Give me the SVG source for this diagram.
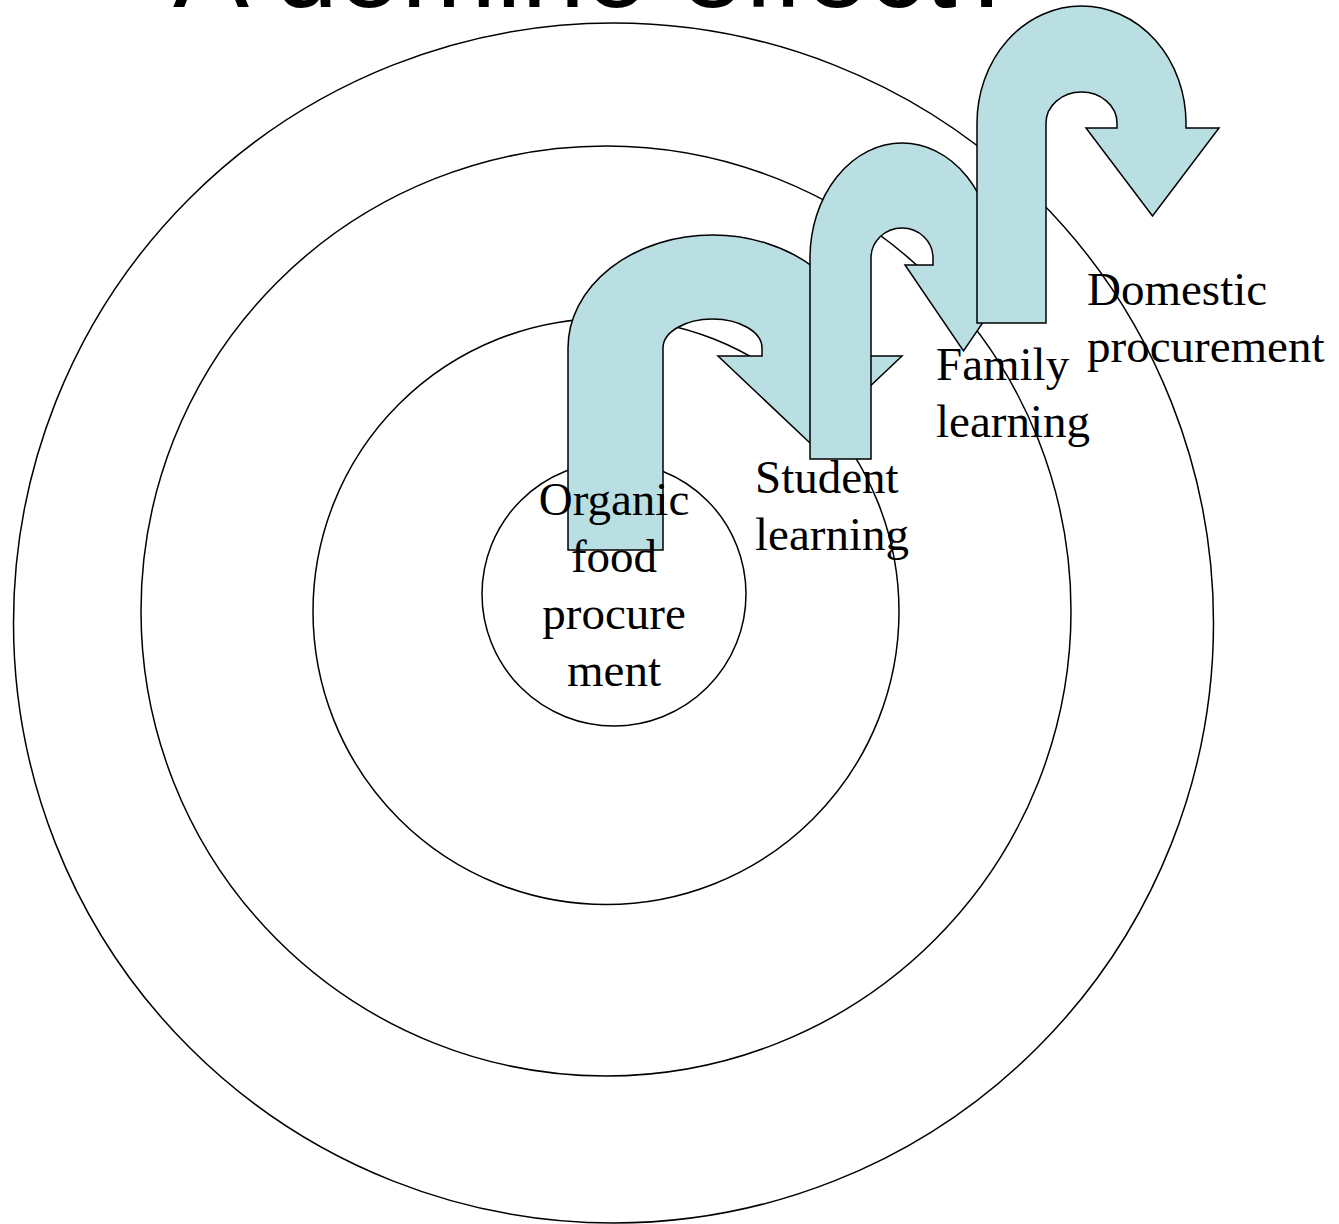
<svg xmlns="http://www.w3.org/2000/svg" width="1339" height="1224" viewBox="0 0 1339 1224">
<style>
.ring{fill:none;stroke:#000;stroke-width:1.5}
.arrow{fill:#b9dfe2;stroke:#000;stroke-width:1.5;stroke-linejoin:miter}
.lbl{font-family:"Liberation Serif","Times New Roman",serif;font-size:47px;fill:#000}
.title{font-family:"Liberation Sans",Arial,sans-serif;font-size:114px;fill:#000}
</style>
<rect width="1339" height="1224" fill="#fff"/>
<text class="title" x="173" y="7">A domino effect?</text>
<g id="rings">
<circle id="ring-outer" class="ring" cx="613.5" cy="623" r="600"/>
<circle id="ring-2" class="ring" cx="606" cy="611" r="465"/>
<circle id="ring-3" class="ring" cx="606" cy="611.5" r="293"/>
<circle id="ring-inner" class="ring" cx="614" cy="594" r="132"/>
</g>
<g id="connectors">
<path id="arrow-1" class="arrow" d="M568 550 L568 348 A144.5 113 0 0 1 857 348 L857 356 L902 356 L810 443 L718 356 L762 356 L762 348 A49.5 29 0 0 0 663 348 L663 550 Z"/>
<path id="arrow-2" class="arrow" d="M810 459 L810 258 A92 115 0 0 1 994 258 L994 265 L1022 265 L963.5 351 L905 265 L933 265 L933 258 A31 30 0 0 0 871 258 L871 459 Z"/>
<path id="arrow-3" class="arrow" d="M977 323 L977 123 A104.5 117 0 0 1 1186 123 L1186 128 L1219 128 L1152.5 216 L1086 128 L1117 128 L1117 123 A35.5 31 0 0 0 1046 123 L1046 323 Z"/>
</g>
<g id="node-organic">
<text class="lbl" text-anchor="middle" x="614" y="515">Organic</text>
<text class="lbl" text-anchor="middle" x="614" y="572">food</text>
<text class="lbl" text-anchor="middle" x="614" y="629">procure</text>
<text class="lbl" text-anchor="middle" x="614" y="686">ment</text>
</g>
<g id="node-student">
<text class="lbl" x="755" y="493">Student</text>
<text class="lbl" x="755" y="550">learning</text>
</g>
<g id="node-family">
<text class="lbl" x="936" y="380">Family</text>
<text class="lbl" x="936" y="437">learning</text>
</g>
<g id="node-domestic">
<text class="lbl" x="1087" y="305">Domestic</text>
<text class="lbl" x="1087" y="362">procurement</text>
</g>
</svg>
